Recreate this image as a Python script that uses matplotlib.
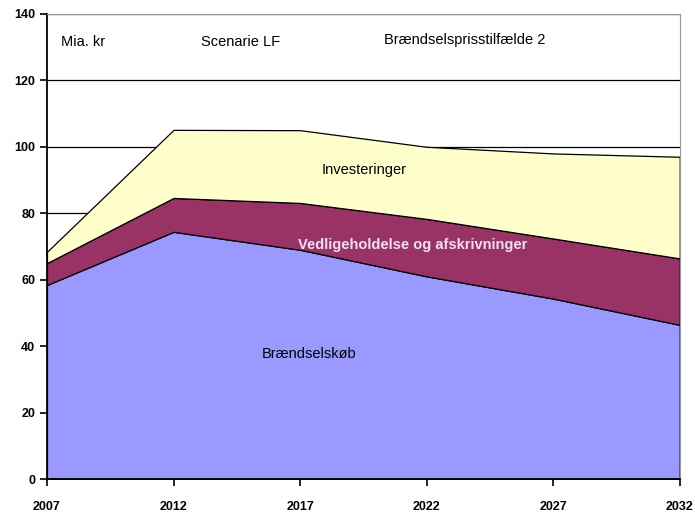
import numpy as np
import matplotlib.pyplot as plt

# Scenarie LF, Brændselsprisstilfælde 2 (mia. kr)
years = [2007, 2012, 2017, 2022, 2027, 2032]
braendselskoeb = [58.4, 74.4, 69.0, 61.0, 54.3, 46.4]
vedligehold = [6.6, 10.2, 14.1, 17.3, 18.1, 20.0]
investeringer = [3.4, 20.5, 21.9, 21.7, 25.6, 30.6]

plt.rcParams['font.family'] = ['Liberation Sans', 'DejaVu Sans']

fig = plt.figure(figsize=(6.95, 5.15), dpi=100)
ax = fig.add_axes([0.0676, 0.0699, 0.9104, 0.9031])

ax.stackplot(years, braendselskoeb, vedligehold, investeringer,
             colors=['#9999FF', '#993366', '#FFFFCC'],
             edgecolor='black', linewidth=0.9, zorder=2)

ax.set_xlim(2007, 2032)
ax.set_ylim(0, 140)
ax.set_xticks(years)
ax.set_yticks(np.arange(0, 141, 20))
ax.tick_params(axis='both', labelsize=9, length=5, width=1.2, direction='out')
for lbl in ax.get_xticklabels() + ax.get_yticklabels():
    lbl.set_fontweight('bold')
ax.tick_params(axis='x', pad=11)
ax.grid(axis='y', color='black', linewidth=0.9, zorder=1)
ax.set_axisbelow(True)

for side in ['top', 'right']:
    ax.spines[side].set_color('#999999')
for side in ['left', 'bottom']:
    ax.spines[side].set_linewidth(1.3)

fs = 10.5
ax.text(2007.55, 131.5, 'Mia. kr', fontsize=fs, va='center')
ax.text(2013.1, 131.5, 'Scenarie LF', fontsize=fs, va='center')
ax.text(2020.3, 132.0, 'Brændselsprisstilfælde 2', fontsize=fs, va='center')
ax.text(2017.85, 93.0, 'Investeringer', fontsize=fs, va='center')
ax.text(2016.9, 70.5, 'Vedligeholdelse og afskrivninger', fontsize=fs,
        va='center', color='#F2E0F0', fontweight='bold')
ax.text(2015.5, 37.5, 'Brændselskøb', fontsize=fs, va='center')

fig.savefig('out.png', dpi=100)
